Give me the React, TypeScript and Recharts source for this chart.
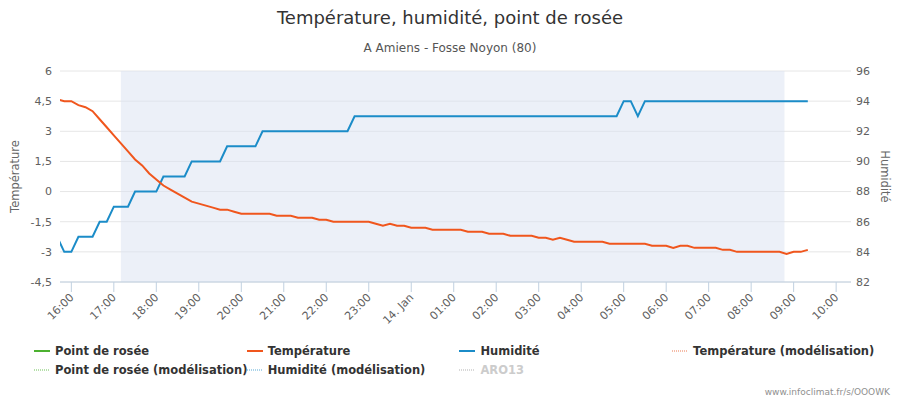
import React from "react";
import {
  LineChart, Line, XAxis, YAxis, CartesianGrid, ReferenceArea, Legend
} from "recharts";

// readings every 10 minutes, first one at 15:40 (minutes counted from 16:00)
const startMinute = -20;
const stepMinutes = 10;

const temperature = [
  4.6, 4.5, 4.5, 4.3, 4.2, 4.0, 3.6, 3.2, 2.8, 2.4,
  2.0, 1.6, 1.3, 0.9, 0.6, 0.3, 0.1, -0.1, -0.3, -0.5,
  -0.6, -0.7, -0.8, -0.9, -0.9, -1.0, -1.1, -1.1, -1.1, -1.1,
  -1.1, -1.2, -1.2, -1.2, -1.3, -1.3, -1.3, -1.4, -1.4, -1.5,
  -1.5, -1.5, -1.5, -1.5, -1.5, -1.6, -1.7, -1.6, -1.7, -1.7,
  -1.8, -1.8, -1.8, -1.9, -1.9, -1.9, -1.9, -1.9, -2.0, -2.0,
  -2.0, -2.1, -2.1, -2.1, -2.2, -2.2, -2.2, -2.2, -2.3, -2.3,
  -2.4, -2.3, -2.4, -2.5, -2.5, -2.5, -2.5, -2.5, -2.6, -2.6,
  -2.6, -2.6, -2.6, -2.6, -2.7, -2.7, -2.7, -2.8, -2.7, -2.7,
  -2.8, -2.8, -2.8, -2.8, -2.9, -2.9, -3.0, -3.0, -3.0, -3.0,
  -3.0, -3.0, -3.0, -3.1, -3.0, -3.0, -2.9,
];

const humidity = [
  85, 84, 84, 85, 85, 85, 86, 86, 87, 87,
  87, 88, 88, 88, 88, 89, 89, 89, 89, 90,
  90, 90, 90, 90, 91, 91, 91, 91, 91, 92,
  92, 92, 92, 92, 92, 92, 92, 92, 92, 92,
  92, 92, 93, 93, 93, 93, 93, 93, 93, 93,
  93, 93, 93, 93, 93, 93, 93, 93, 93, 93,
  93, 93, 93, 93, 93, 93, 93, 93, 93, 93,
  93, 93, 93, 93, 93, 93, 93, 93, 93, 93,
  94, 94, 93, 94, 94, 94, 94, 94, 94, 94,
  94, 94, 94, 94, 94, 94, 94, 94, 94, 94,
  94, 94, 94, 94, 94, 94, 94,
];

const hourTicks = [0, 60, 120, 180, 240, 300, 360, 420, 480, 540, 600, 660, 720, 780, 840, 900, 960, 1020, 1080];
const hourLabels = [
  "16:00", "17:00", "18:00", "19:00", "20:00", "21:00", "22:00", "23:00", "14. Jan",
  "01:00", "02:00", "03:00", "04:00", "05:00", "06:00", "07:00", "08:00", "09:00", "10:00",
];

const tempTicks = [-4.5, -3, -1.5, 0, 1.5, 3, 4.5, 6];
const humTicks = [82, 84, 86, 88, 90, 92, 94, 96];

// night (sunset -> sunrise), minutes from 16:00
const nightStart = 70;
const nightEnd = 1007;

const legendItems = [
  { name: "Point de rosée", color: "#4cb130", dotted: false, muted: false },
  { name: "Température", color: "#f0561d", dotted: false, muted: false },
  { name: "Humidité", color: "#1b8cc8", dotted: false, muted: false },
  { name: "Température (modélisation)", color: "#f2a68c", dotted: true, muted: false },
  { name: "Point de rosée (modélisation)", color: "#9ed68e", dotted: true, muted: false },
  { name: "Humidité (modélisation)", color: "#8ec6e4", dotted: true, muted: false },
  { name: "ARO13", color: "#cccccc", dotted: true, muted: true },
];

const data = temperature.map((v, i) => ({
  t: startMinute + i * stepMinutes,
  temp: v,
  hum: humidity[i],
}));

const FONT = '"DejaVu Sans", Verdana, sans-serif';

const HourTick = ({ x, y, payload }: any) => {
  const idx = hourTicks.indexOf(payload.value);
  const ax = x + 3;
  const ay = y + 4;
  return (
    <text
      x={ax}
      y={ay}
      transform={`rotate(-45 ${ax} ${ay})`}
      textAnchor="end"
      fill="#606060"
      fontSize={11}
    >
      {hourLabels[idx]}
    </text>
  );
};

const AxisTitle = ({ viewBox, value, side }: any) => {
  if (!viewBox) return null;
  const cy = viewBox.y + viewBox.height / 2;
  const cx = side === "left" ? 15 : 885;
  return (
    <text
      x={cx}
      y={cy}
      transform={`rotate(${side === "left" ? -90 : 90} ${cx} ${cy})`}
      textAnchor="middle"
      dominantBaseline="central"
      fill="#666666"
      fontSize={11.5}
    >
      {value}
    </text>
  );
};

const renderLegend = () => (
  <div style={{ position: "relative", width: 900, height: 40, fontFamily: FONT }}>
    {legendItems.map((item, i) => {
      const col = i < 4 ? i : i - 4;
      const row = i < 4 ? 0 : 1;
      return (
        <div
          key={item.name}
          style={{
            position: "absolute",
            left: 34 + col * 212.7,
            top: row * 18.5,
            height: 18,
            display: "flex",
            alignItems: "center",
            whiteSpace: "nowrap",
          }}
        >
          <svg width={16} height={18} style={{ marginRight: 5 }}>
            <line
              x1={0}
              x2={16}
              y1={9}
              y2={9}
              stroke={item.color}
              strokeWidth={item.dotted ? 1.5 : 2}
              strokeDasharray={item.dotted ? "1 1" : undefined}
            />
          </svg>
          <span
            style={{
              fontSize: 11.5,
              fontWeight: 700,
              color: item.muted ? "#cccccc" : "#333333",
            }}
          >
            {item.name}
          </span>
        </div>
      );
    })}
  </div>
);

export default function App() {
  return (
    <div style={{ position: "relative", width: 900, height: 400, fontFamily: FONT, background: "#fff" }}>
      <style>{"body{margin:0}"}</style>
      <svg
        width={900}
        height={400}
        style={{ position: "absolute", left: 0, top: 0, pointerEvents: "none" }}
      >
        <text x={450} y={24} textAnchor="middle" fontSize={18} fill="#333333">
          Température, humidité, point de rosée
        </text>
        <text x={450} y={52} textAnchor="middle" fontSize={12} fill="#555555">
          A Amiens - Fosse Noyon (80)
        </text>
        <text x={890} y={395} textAnchor="end" fontSize={9} fill="#909090">
          www.infoclimat.fr/s/OOOWK
        </text>
      </svg>
      <LineChart
        width={900}
        height={400}
        data={data}
        margin={{ top: 71, right: 0, bottom: 78, left: 0 }}
        style={{ position: "absolute", left: 0, top: 0 }}
      >
        <ReferenceArea
          yAxisId="temp"
          x1={nightStart}
          x2={nightEnd}
          fill="#d9e1f1"
          fillOpacity={0.5}
          stroke="none"
        />
        <CartesianGrid yAxisId="temp" vertical={false} stroke="#e6e6e6" />
        <XAxis
          dataKey="t"
          type="number"
          domain={[-16, 1101]}
          ticks={hourTicks}
          allowDataOverflow
          interval={0}
          height={40}
          tickSize={10}
          axisLine={{ stroke: "#c0d0e0" }}
          tickLine={{ stroke: "#c0d0e0" }}
          tick={<HourTick />}
        />
        <YAxis
          yAxisId="temp"
          orientation="left"
          width={60}
          domain={[-4.5, 6]}
          ticks={tempTicks}
          interval={0}
          allowDataOverflow
          axisLine={false}
          tickLine={false}
          tick={{ fill: "#606060", fontSize: 11 }}
          tickFormatter={(v: number) => String(v).replace(".", ",")}
          label={<AxisTitle value="Température" side="left" />}
        />
        <YAxis
          yAxisId="hum"
          orientation="right"
          width={49}
          domain={[82, 96]}
          ticks={humTicks}
          interval={0}
          allowDataOverflow
          axisLine={false}
          tickLine={false}
          tickSize={4}
          tickMargin={1}
          tick={{ fill: "#606060", fontSize: 11 }}
          label={<AxisTitle value="Humidité" side="right" />}
        />
        <Legend
          layout="horizontal"
          verticalAlign="middle"
          align="center"
          content={renderLegend}
          wrapperStyle={{ left: 0, top: 342, width: 900 }}
        />
        <Line
          yAxisId="hum"
          type="linear"
          dataKey="hum"
          name="Humidité"
          stroke="#1b8cc8"
          strokeWidth={2}
          dot={false}
          isAnimationActive={false}
        />
        <Line
          yAxisId="temp"
          type="linear"
          dataKey="temp"
          name="Température"
          stroke="#f0561d"
          strokeWidth={2}
          dot={false}
          isAnimationActive={false}
        />
      </LineChart>
    </div>
  );
}
